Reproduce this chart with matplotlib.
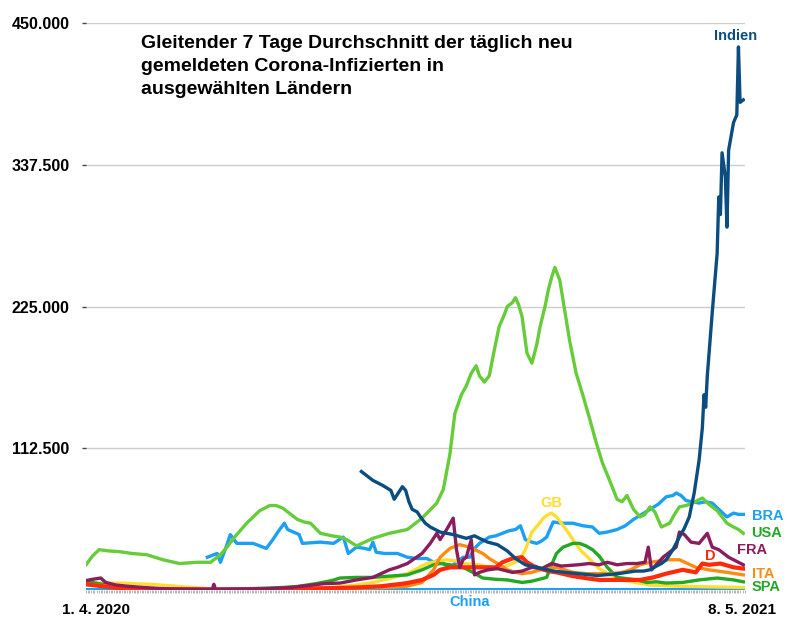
import matplotlib
matplotlib.use('Agg')
import matplotlib.pyplot as plt

# days since 1. 4. 2020, values = 7 day average of new cases
usa_days  = [0, 4, 8, 14, 20, 28, 37, 47, 57, 68, 76, 82, 86, 90, 98, 106, 112, 116, 120, 125, 129, 133, 137, 143,
             150, 155, 159, 165, 170, 175, 185, 196, 205, 214, 218, 222, 225, 229, 232, 235, 238, 240, 243, 246, 249,
             252, 255, 257, 260, 262, 264, 266, 269, 272, 275, 277, 280, 282, 284, 286, 289, 292, 295, 299, 303, 307,
             311, 315, 320, 324, 327, 330, 334, 338, 341, 344, 347, 351, 356, 359, 362, 366, 370, 373, 376, 380, 385,
             388, 391, 395, 398, 401]
usa_cases = [20, 27, 32, 31, 30.5, 29, 28, 24, 21, 22, 22, 28, 34, 41, 53, 63, 67, 67, 65, 60, 56, 54, 53, 45,
             43, 42, 40, 35, 38, 41, 45, 48, 57, 69, 80, 108, 140, 155, 162, 172, 178, 170, 165, 170, 190,
             209, 218, 225, 228, 232, 226, 217, 188, 180, 195, 209, 225, 238, 248, 256, 246, 222, 198, 172, 155, 137,
             118, 101, 85, 72, 70, 75, 64, 58, 60, 66, 62, 50, 53, 60, 66, 67, 69, 71, 73, 68, 63,
             58, 53, 50, 48, 45]

bra_days  = [74, 80, 82, 86, 88, 92, 102, 110, 114, 117, 121, 123, 130, 132, 143, 151, 157, 160, 165, 170, 173, 175,
             177, 182, 190, 196, 202, 208, 212, 216, 219, 222, 226, 230, 234, 237, 240, 246, 250, 254, 258, 262, 265,
             268, 272, 275, 278, 281, 285, 290, 297, 303, 309, 313, 318, 324, 329, 334, 339, 344, 349, 354, 358, 360,
             363, 366, 370, 374, 378, 382, 386, 391, 395, 398, 401]
bra_cases = [26, 29, 22, 36, 44, 37, 37, 33, 40, 46, 53, 48, 44, 37, 38, 37, 42, 29, 34, 33, 32, 38,
             30, 29, 29, 26, 25, 25, 22, 24, 20, 18, 22, 26, 26, 33, 37, 42, 43, 45, 47, 48, 51,
             40, 38, 37, 39, 42, 54, 53, 53, 51, 50, 45, 46, 48, 51, 56, 60, 64, 68, 74, 75, 77,
             75, 71, 70, 69, 70, 69, 64, 58, 61, 60, 60]

ind_days  = [168, 172, 175, 181, 186, 188, 190, 193, 195, 197, 199, 202, 204, 207, 210, 216, 224, 232, 237, 240,
             245, 251, 257, 262, 268, 275, 285, 300, 312, 325, 335, 340, 344, 348, 351, 354, 358, 362, 365, 368,
             371, 374, 376, 377, 378, 379, 382, 385, 386, 387, 388, 390, 391, 392, 395, 397, 398, 399, 401]
ind_cases = [94, 90, 87, 83, 79, 72, 76, 82, 79, 70, 64, 62, 58, 53, 50, 46, 44, 41, 43, 41,
             38, 36, 31, 25, 20, 18, 15, 13, 11.5, 13, 15, 15, 16, 19, 21, 24, 32, 42, 49, 58,
             77, 103, 129, 155, 145, 170, 220, 267, 312, 298, 347, 328, 288, 349, 371, 377, 431, 387, 389]

fra_days  = [0, 4, 9, 12, 18, 25, 35, 45, 55, 70, 77, 78, 79, 90, 110, 125, 135, 145, 155, 165, 175, 185, 190, 196,
             205, 210, 214, 216, 220, 224, 226, 228, 230, 232, 235, 237, 240, 245, 251, 260, 266, 272, 278, 284,
             290, 300, 307, 313, 318, 324, 330, 336, 341, 343, 345, 352, 356, 360, 362, 365, 369, 374, 379, 382,
             386, 392, 401]
fra_cases = [7.5, 8.5, 9.5, 6, 4, 3, 2, 1.2, 0.8, 0.6, 0.6, 4.5, 0.6, 0.7, 1, 2, 3.5, 5, 5.5, 8, 10, 16, 18, 21,
             29, 37, 45, 40, 48, 57, 32, 18, 24, 26, 40, 12, 14, 16, 17, 14, 15, 18, 17, 21,
             19, 20, 21, 20, 22, 20, 21, 21, 22, 34, 16, 26, 30, 34, 46, 44, 38, 37, 45, 34,
             32, 26, 20]

ger_days  = [0, 10, 20, 35, 50, 80, 110, 130, 150, 165, 180, 190, 196, 205, 212, 216, 222, 230, 240, 250, 254, 260,
             266, 269, 273, 277, 282, 287, 297, 307, 313, 320, 327, 338, 346, 354, 364, 372, 376, 380, 387, 395, 401]
ger_cases = [4.5, 3, 1.5, 0.8, 0.5, 0.4, 0.6, 1.2, 1.5, 2, 3, 4.5, 5.5, 8, 12, 16, 18, 18, 18, 18, 22, 25,
             26, 22, 19, 17, 15, 14, 11, 9, 8, 8, 8, 8, 10, 13, 16, 14, 21, 20, 21, 18, 17]

gb_days  = [0, 20, 40, 60, 75, 100, 120, 140, 155, 165, 175, 185, 196, 208, 215, 220, 226, 230, 240, 248, 253, 258,
            262, 265, 268, 272, 276, 279, 282, 284, 287, 290, 294, 297, 302, 307, 312, 318, 327, 335, 344, 360,
            380, 401]
gb_cases = [5.5, 5.5, 4.5, 2.5, 1, 0.7, 0.8, 1.2, 2.5, 4, 6, 9, 13, 21, 23, 24, 23, 21, 20, 17, 17, 20,
            22, 25, 32, 46, 52, 57, 60, 61, 58, 53, 46, 40, 31, 25, 18, 13, 8, 6, 4, 3,
            2.5, 2]

ita_days  = [0, 10, 20, 30, 40, 50, 60, 80, 110, 130, 150, 165, 180, 190, 196, 205, 212, 216, 222, 228, 234, 242,
             246, 251, 257, 262, 266, 272, 277, 282, 287, 292, 297, 305, 313, 320, 327, 332, 338, 344, 350, 354,
             362, 367, 372, 380, 391, 401]
ita_cases = [4.5, 3.5, 3, 2, 1.2, 0.7, 0.4, 0.25, 0.3, 0.6, 1.3, 1.6, 2, 2.5, 3, 6, 16, 26, 33, 36, 34, 29,
             25, 21, 16, 14, 13, 14, 16, 17, 18, 16, 14, 13, 13, 13, 14, 16, 20, 22, 23, 24,
             24, 21, 18, 16, 14, 12]

spa_days  = [0, 8, 15, 25, 35, 50, 70, 90, 110, 120, 129, 140, 150, 155, 165, 175, 185, 196, 205, 212, 216, 222,
             230, 236, 242, 250, 257, 266, 272, 281, 284, 287, 291, 297, 301, 305, 309, 313, 318, 324, 330, 336,
             342, 348, 354, 364, 374, 385, 395, 401]
spa_cases = [7, 5, 3.5, 2, 1.2, 0.5, 0.4, 0.7, 1.5, 2, 2.8, 5, 7.5, 9.5, 10, 10, 11, 12, 16, 20, 21, 20,
             18, 14, 9.5, 8.5, 8, 6, 7, 10, 20, 29, 34, 37, 37, 35, 32, 27, 18, 10, 9, 8,
             6, 6.5, 5.5, 6, 8, 9.5, 8, 6.5]

chn_days  = [0, 401]
chn_cases = [0.3, 0.3]

y_ticks  = [112500, 225000, 337500, 450000]
y_labels = ['112.500', '225.000', '337.500', '450.000']
x_ticks  = [6, 400]
x_labels = ['1. 4. 2020', '8. 5. 2021']

c_ind = '#0B4D80'
c_bra = '#1BA0F2'
c_usa = '#66CC3A'
c_spa = '#22A822'
c_fra = '#8C1D5C'
c_ger = '#FF2A0A'
c_ita = '#FF8C10'
c_gb  = '#FFDD33'


def chart():
    plt.rcParams['font.family'] = ['Liberation Sans', 'DejaVu Sans']
    fig = plt.figure(figsize=(8, 6.26), dpi=100)
    ax = fig.add_axes([86 / 800, 36 / 626, 659 / 800, 567 / 626])

    lw = 2.4
    k = lambda vals: [v * 1000 for v in vals]
    ax.plot(chn_days, k(chn_cases), color=c_bra, lw=lw + 0.5, zorder=3)
    ax.plot(bra_days, k(bra_cases), color=c_bra, lw=lw, zorder=3)
    ax.plot(usa_days, k(usa_cases), color=c_usa, lw=lw, zorder=4)
    ax.plot(gb_days,  k(gb_cases),  color=c_gb,  lw=lw, zorder=4)
    ax.plot(spa_days, k(spa_cases), color=c_spa, lw=lw, zorder=5)
    ax.plot(ita_days, k(ita_cases), color=c_ita, lw=lw, zorder=5)
    ax.plot(ger_days, k(ger_cases), color=c_ger, lw=lw + 0.6, zorder=6)
    ax.plot(fra_days, k(fra_cases), color=c_fra, lw=lw, zorder=6)
    ax.plot(ind_days, k(ind_cases), color=c_ind, lw=lw, zorder=7)

    ax.set_xlim(0, 402)
    ax.set_ylim(0, 450000)
    ax.set_yticks(y_ticks)
    ax.set_yticklabels(y_labels, fontsize=11.5, fontweight='bold')
    ax.set_xticks(x_ticks)
    ax.set_xticklabels(x_labels, fontsize=11, fontweight='bold')
    ax.set_xticks(range(0, 403), minor=True)
    ax.tick_params(axis='y', length=3, width=1, color='#444444', pad=9)
    ax.tick_params(axis='x', which='major', length=0, pad=9)
    ax.tick_params(axis='x', which='minor', length=2.5, width=0.5, color='#999999')
    ax.grid(axis='y', color='#cccccc', lw=1)
    ax.set_axisbelow(True)
    for s in ax.spines.values():
        s.set_visible(False)

    # labels at line ends
    lab = dict(fontsize=10.5, fontweight='bold')
    ax.text(396, 440000, 'Indien', color=c_ind, ha='center', va='center', **lab)
    ax.text(406, 59000, 'BRA', color=c_bra, ha='left', va='center', clip_on=False, **lab)
    ax.text(406, 45000, 'USA', color=c_spa, ha='left', va='center', clip_on=False, **lab)
    ax.text(397, 31500, 'FRA', color=c_fra, ha='left', va='center', clip_on=False, **lab)
    ax.text(381, 27000, 'D', color=c_ger, ha='center', va='center', **lab)
    ax.text(406, 12500, 'ITA', color=c_ita, ha='left', va='center', clip_on=False, **lab)
    ax.text(406, 2500, 'SPA', color=c_spa, ha='left', va='center', clip_on=False, **lab)
    ax.text(284, 69000, 'GB', color=c_gb, ha='center', va='center', **lab)
    ax.text(234, -9500, 'China', color=c_bra, ha='center', va='center', clip_on=False, **lab)

    fig.text(141 / 800, 1 - 35 / 626,
             'Gleitender 7 Tage Durchschnitt der täglich neu\n'
             'gemeldeten Corona-Infizierten in\n'
             'ausgewählten Ländern',
             fontsize=14, fontweight='bold', ha='left', va='top', linespacing=1.45)

    fig.savefig('out.png', dpi=100)


if __name__ == "__main__":
    chart()
